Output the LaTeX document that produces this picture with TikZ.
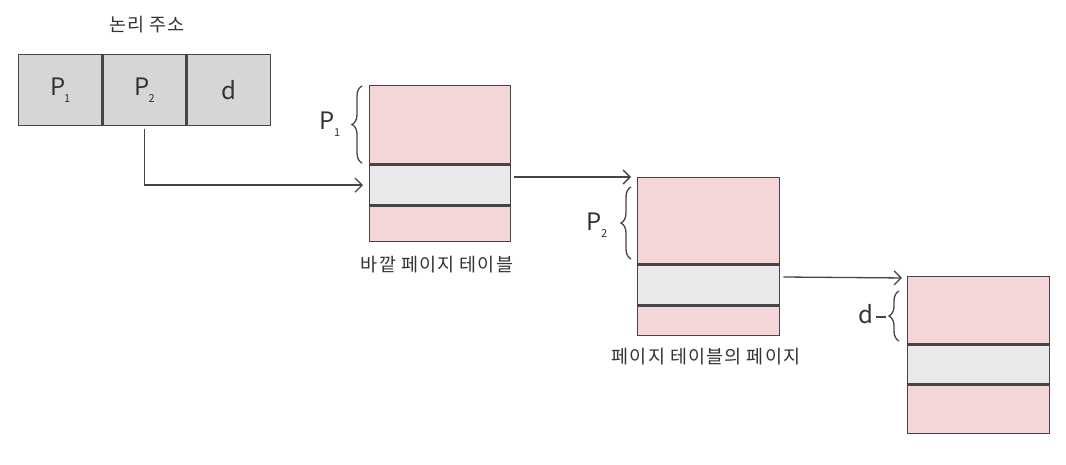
\documentclass[tikz,border=0pt]{standalone}
\usepackage{fontspec}
\setmainfont{Noto Sans CJK KR}
\newfontfamily\krfont[LetterSpace=6]{Noto Sans CJK KR}
\usetikzlibrary{arrows.meta,decorations.pathreplacing,calc}
\definecolor{ln}{HTML}{454545}
\definecolor{addrfill}{HTML}{D6D6D6}
\definecolor{pinkfill}{HTML}{F5D6D8}
\definecolor{bandfill}{HTML}{E9E9E9}
\definecolor{txt}{HTML}{333333}
\newcommand{\subidx}[1]{\kern-1pt\raisebox{-7pt}{\fontsize{11}{11}\selectfont #1}}
\begin{document}
\begin{tikzpicture}[x=1pt,y=-1pt,
  cell/.style={draw=ln,line width=1.4pt,fill=addrfill,minimum width=83pt,minimum height=71pt,inner sep=0pt,font=\fontsize{24}{24}\selectfont,text=txt},
  pinkbox/.style={draw=ln,line width=1.4pt,fill=pinkfill,inner sep=0pt,anchor=north west},
  bandbox/.style={draw=ln,line width=1.4pt,fill=bandfill,inner sep=0pt,anchor=north west},
  lbl/.style={font=\krfont\fontsize{18.5}{18.5}\selectfont,text=txt,inner sep=0pt},
  blbl/.style={font=\fontsize{24}{24}\selectfont,text=txt,inner sep=0pt},
  conn/.style={draw=ln,line width=1.3pt,-{Straight Barb[length=7pt,width=14pt,line width=1.3pt]}},
  bracestyle/.style={draw=ln,line width=1.3pt,decorate,decoration={brace,amplitude=10pt}}
]
\useasboundingbox (0,0) rectangle (1066,464);
% logical address
\node[lbl] (title) at (147,25) {논리 주소};
\node[cell,anchor=north west] (p1) at (18,54) {P\subidx{1}};
\node[cell,anchor=north west] (p2) at (p1.north east) {P\subidx{2}};
\node[cell,anchor=north west] (dd) at (p2.north east) {d};
% table 1
\node[pinkbox,minimum width=141pt,minimum height=78pt] (t1a) at (369,85) {};
\node[bandbox,minimum width=141pt,minimum height=40pt] (t1b) at (t1a.south west) {};
\node[pinkbox,minimum width=141pt,minimum height=35pt] (t1c) at (t1b.south west) {};
\node[lbl] (l1) at (437,265) {바깥 페이지 테이블};
% table 2
\node[pinkbox,minimum width=142pt,minimum height=86pt] (t2a) at (637,177) {};
\node[bandbox,minimum width=142pt,minimum height=40pt] (t2b) at (t2a.south west) {};
\node[pinkbox,minimum width=142pt,minimum height=29pt] (t2c) at (t2b.south west) {};
\node[lbl] (l2) at (706,357) {페이지 테이블의 페이지};
% table 3
\node[pinkbox,minimum width=142pt,minimum height=67pt] (t3a) at (907,276) {};
\node[bandbox,minimum width=142pt,minimum height=39pt] (t3b) at (t3a.south west) {};
\node[pinkbox,minimum width=142pt,minimum height=48pt] (t3c) at (t3b.south west) {};
% braces
\coordinate (b1s) at (362,163);
\coordinate (b1e) at (362,86);
\draw[bracestyle] (b1s) -- (b1e);
\node[blbl] (bl1) at (330,124) {P\subidx{1}};
\coordinate (b2s) at (631,259);
\coordinate (b2e) at (631,187);
\draw[bracestyle] (b2s) -- (b2e);
\node[blbl] (bl2) at (597,225) {P\subidx{2}};
\coordinate (b3s) at (899,341);
\coordinate (b3e) at (899,291);
\draw[bracestyle] (b3s) -- (b3e);
\node[blbl] (bl3) at (866,314) {d};
\coordinate (dashs) at (876,317);
\coordinate (dashe) at (886,317);
\draw[draw=ln,line width=1.3pt] (dashs) -- (dashe);
% connectors
\draw[conn,shorten >=6pt] ($(p2.south)+(0,3)$) |- (t1b.west);
\draw[conn,shorten >=6pt] ($(t1b.east |- t2a.north)+(3,0)$) -- (t2a.north west);
\draw[conn,shorten >=5pt] ($(t2b.east |- t3a.north)+(3,1)$) -- ($(t3a.north west)+(0,2)$);
\end{tikzpicture}
\end{document}
